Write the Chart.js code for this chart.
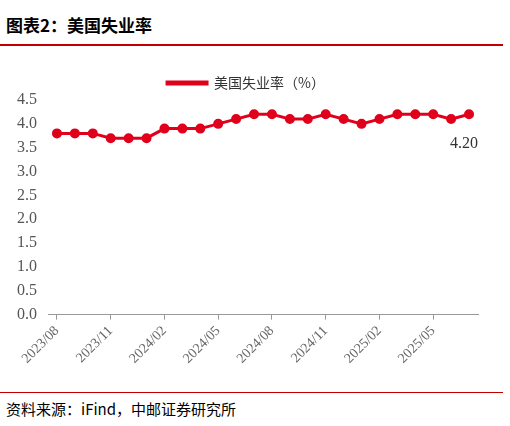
<!DOCTYPE html>
<html><head><meta charset="utf-8">
<script src="https://cdn.jsdelivr.net/npm/chart.js@4"></script>
<style>
body{margin:0;width:510px;height:426px;background:#fff;font-family:"Noto Sans CJK SC";position:relative;overflow:hidden}
#t{position:absolute;left:6px;top:12px;font-size:17px;font-weight:bold;color:#000}
#l1{position:absolute;left:0;top:44px;width:503px;height:2px;background:#c00000}
#l2{position:absolute;left:0;top:392px;width:503px;height:1px;background:#c00000}
#s{position:absolute;left:6px;top:398px;font-size:15px;color:#000}
#w{position:absolute;left:0;top:66px;width:500px;height:304px}
</style></head><body>
<div id="t">图表2：美国失业率</div><div id="l1"></div>
<div id="w"><canvas id="c"></canvas></div>
<div id="l2"></div><div id="s">资料来源：iFind，中邮证券研究所</div>
<script>
const labels=["2023/08","2023/09","2023/10","2023/11","2023/12","2024/01","2024/02","2024/03","2024/04","2024/05","2024/06","2024/07","2024/08","2024/09","2024/10","2024/11","2024/12","2025/01","2025/02","2025/03","2025/04","2025/05","2025/06","2025/07"];
const values=[3.8,3.8,3.8,3.7,3.7,3.7,3.9,3.9,3.9,4.0,4.1,4.2,4.2,4.1,4.1,4.2,4.1,4.0,4.1,4.2,4.2,4.2,4.1,4.2];
const yTicks=[0,0.5,1,1.5,2,2.5,3,3.5,4,4.5];
const lastLabel={id:'ll',afterDatasetsDraw(c){const m=c.getDatasetMeta(0).data;const p=m[m.length-1];const x=c.ctx;x.save();x.font='16px "Liberation Serif"';x.fillStyle='#333';x.textAlign='center';x.fillText(values[values.length-1].toFixed(2),p.x-5,p.y+29);x.restore();}};
new Chart(document.getElementById('c'),{type:'line',data:{labels,datasets:[{label:'美国失业率（%）',data:values,borderColor:'#e0001b',backgroundColor:'#e0001b',borderWidth:3,pointRadius:3.5,pointBackgroundColor:'#e0001b',tension:0}]},
options:{responsive:true,maintainAspectRatio:false,animation:false,layout:{padding:{left:14,right:22,top:0}},
plugins:{legend:{labels:{boxWidth:40,boxHeight:2,font:{size:14,family:'"Noto Sans CJK SC"'},color:'#333'}},tooltip:{enabled:false}},
scales:{x:{offset:true,grid:{display:true,drawOnChartArea:false,drawTicks:true,tickLength:5,color:'#999'},border:{color:'#999'},ticks:{autoSkip:false,maxRotation:45,minRotation:45,color:'#666',font:{size:14,family:'"Liberation Serif"'},callback:(v,i)=>i%3===0?labels[i]:null}},
y:{min:0,max:4.5,afterBuildTicks:a=>{a.ticks=yTicks.map(v=>({value:v}))},grid:{display:false},border:{display:false},ticks:{color:'#555',font:{size:16,family:'"Liberation Serif"'},callback:v=>v.toFixed(1)}}}},plugins:[lastLabel]});
</script></body></html>
